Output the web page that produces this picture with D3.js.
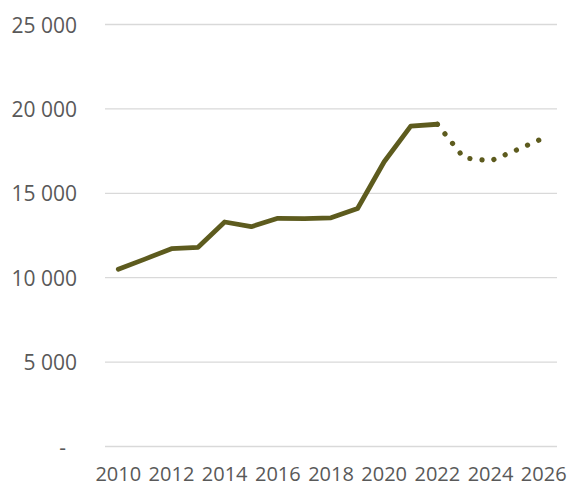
<!DOCTYPE html>
<html>
<head>
<meta charset="utf-8">
<script src="https://cdn.jsdelivr.net/npm/d3@7"></script>
<style>
  html, body { margin: 0; padding: 0; background: #ffffff; }
  svg { display: block; }
</style>
</head>
<body>
<svg id="chart" width="568" height="486"></svg>
<script>
// Data
const years = [2010, 2011, 2012, 2013, 2014, 2015, 2016, 2017, 2018, 2019, 2020, 2021, 2022, 2023, 2024, 2025, 2026];
const actualYears = [2010, 2011, 2012, 2013, 2014, 2015, 2016, 2017, 2018, 2019, 2020, 2021, 2022];
const actualValues = [10500, 11100, 11720, 11800, 13300, 13020, 13520, 13500, 13550, 14100, 16870, 18980, 19090];
const forecastYears = [2022, 2023, 2024, 2025, 2026];
const forecastValues = [19090, 17100, 16920, 17580, 18280];
const yTicks = [0, 5000, 10000, 15000, 20000, 25000];
const xTickLabels = [2010, 2012, 2014, 2016, 2018, 2020, 2022, 2024, 2026];

const svg = d3.select("#chart");
const plot = { left: 105, right: 557, top: 24.5, bottom: 446.5 };
const lineColor = "#5D5B1E";
const textColor = "#595959";
const font = "'Open Sans', 'Noto Sans', sans-serif";

const x = d3.scaleBand()
  .domain(years)
  .range([plot.left, plot.right])
  .paddingInner(0).paddingOuter(0);
const xc = d => x(d) + x.bandwidth() / 2;

const y = d3.scaleLinear().domain([0, 25000]).range([plot.bottom, plot.top]);

const fmt = v => v === 0 ? "-" : d3.format(",")(v).replace(/,/g, " ");

// gridlines
svg.append("g")
  .selectAll("line")
  .data(yTicks)
  .join("line")
  .attr("x1", plot.left)
  .attr("x2", plot.right)
  .attr("y1", d => y(d))
  .attr("y2", d => y(d))
  .attr("stroke", "#d9d9d9")
  .attr("stroke-width", 1.3);

// y axis labels
const yAxis = d3.axisLeft(y).tickValues(yTicks).tickSize(0).tickPadding(0).tickFormat(fmt);
const gy = svg.append("g").attr("transform", "translate(77,0)").call(yAxis);
gy.select(".domain").remove();
gy.selectAll("text")
  .attr("font-family", font)
  .attr("font-size", "21px")
  .attr("fill", textColor)
  .attr("dy", "0.36em")
  .attr("x", d => d === 0 ? -11 : 0);

// x axis labels
const xAxis = d3.axisBottom(x).tickValues(xTickLabels).tickSize(0).tickPadding(0).tickFormat(d3.format("d"));
const gx = svg.append("g").attr("transform", `translate(0,${plot.bottom})`).call(xAxis);
gx.select(".domain").remove();
gx.selectAll("text")
  .attr("font-family", font)
  .attr("font-size", "20px")
  .attr("fill", textColor)
  .attr("dy", 0)
  .attr("y", 34);

// lines
const line = d3.line().x(d => xc(d[0])).y(d => y(d[1]));

svg.append("path")
  .datum(forecastYears.map((yr, i) => [yr, forecastValues[i]]))
  .attr("d", line)
  .attr("fill", "none")
  .attr("stroke", lineColor)
  .attr("stroke-width", 5.2)
  .attr("stroke-linecap", "round")
  .attr("stroke-dasharray", "0.1 12.1");

svg.append("path")
  .datum(actualYears.map((yr, i) => [yr, actualValues[i]]))
  .attr("d", line)
  .attr("fill", "none")
  .attr("stroke", lineColor)
  .attr("stroke-width", 4.8)
  .attr("stroke-linecap", "round")
  .attr("stroke-linejoin", "round");
</script>
</body>
</html>
